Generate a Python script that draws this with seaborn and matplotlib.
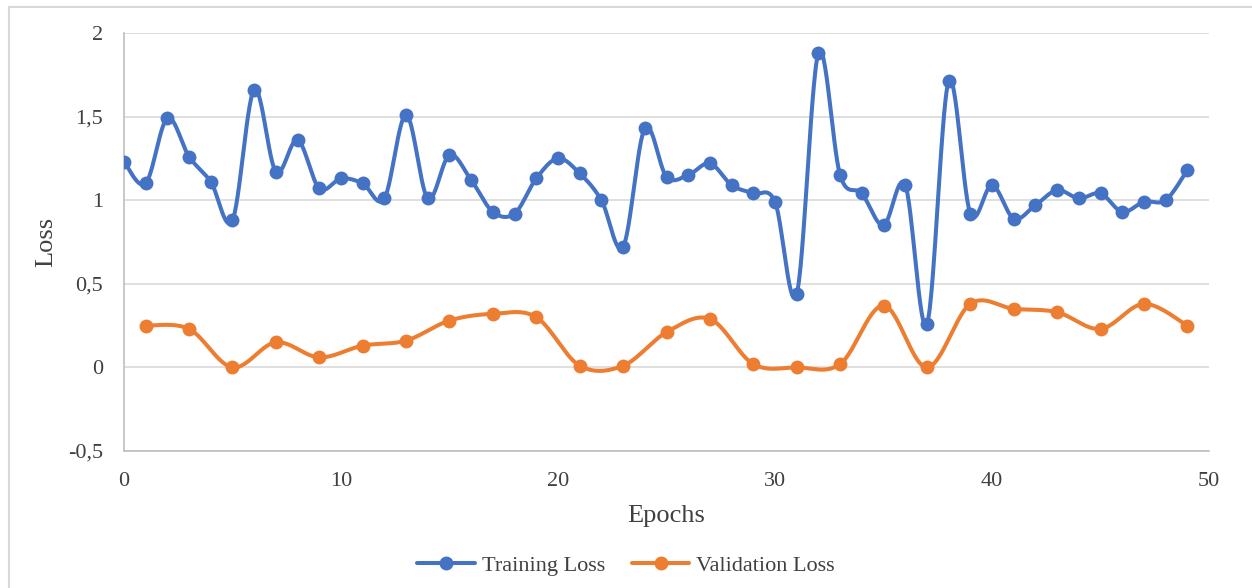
import numpy as np
import pandas as pd
import matplotlib
matplotlib.use("Agg")
import matplotlib.pyplot as plt
import seaborn as sns
from matplotlib.lines import Line2D
from matplotlib.patches import Rectangle

# valeurs
train_epochs = list(range(50))
train_loss = [1.23, 1.10, 1.49, 1.26, 1.11, 0.88, 1.66, 1.17, 1.36, 1.07,
              1.13, 1.10, 1.01, 1.51, 1.01, 1.27, 1.12, 0.93, 0.92, 1.13,
              1.25, 1.16, 1.00, 0.72, 1.43, 1.14, 1.15, 1.22, 1.09, 1.04,
              0.99, 0.44, 1.88, 1.15, 1.04, 0.85, 1.09, 0.26, 1.71, 0.92,
              1.09, 0.89, 0.97, 1.06, 1.01, 1.04, 0.93, 0.99, 1.00, 1.18]
val_epochs = list(range(1, 50, 2))
val_loss = [0.25, 0.23, 0.00, 0.15, 0.06, 0.13, 0.16, 0.28, 0.32, 0.30,
            0.01, 0.01, 0.21, 0.29, 0.02, 0.00, 0.02, 0.37, 0.00, 0.38,
            0.35, 0.33, 0.23, 0.38, 0.25]

xticks = [0, 10, 20, 30, 40, 50]
yticks = [-0.5, 0, 0.5, 1, 1.5, 2]
ytick_labels = ["-0,5", "0", "0,5", "1", "1,5", "2"]

BLUE = "#4472C4"
ORANGE = "#ED7D31"


def lissage(x, y, n=30):
    # courbe lissée façon Excel (bezier catmull-rom)
    x = np.asarray(x, float)
    y = np.asarray(y, float)
    px = np.concatenate([[x[0]], x, [x[-1]]])
    py = np.concatenate([[y[0]], y, [y[-1]]])
    t = np.linspace(0, 1, n)[:, None]
    xs, ys = [], []
    for i in range(1, len(px) - 2):
        p0 = np.array([px[i], py[i]])
        p3 = np.array([px[i + 1], py[i + 1]])
        c1 = p0 + (p3 - np.array([px[i - 1], py[i - 1]])) / 6
        c2 = p3 - (np.array([px[i + 2], py[i + 2]]) - p0) / 6
        pts = ((1 - t) ** 3) * p0 + 3 * ((1 - t) ** 2) * t * c1 + 3 * (1 - t) * t ** 2 * c2 + t ** 3 * p3
        xs.append(pts[:, 0])
        ys.append(pts[:, 1])
    return np.concatenate(xs), np.concatenate(ys)


sns.set_style("white")
plt.rcParams['font.family'] = ['Liberation Serif', 'DejaVu Serif']

fig = plt.figure(figsize=(12.52, 5.88), dpi=100)
ax = fig.add_axes([0.099, 0.233, 0.8667, 0.711])

for ep, loss, col in [(train_epochs, train_loss, BLUE), (val_epochs, val_loss, ORANGE)]:
    sx, sy = lissage(ep, loss)
    curve = pd.DataFrame({"x": sx, "y": sy})
    sns.lineplot(data=curve, x="x", y="y", color=col, linewidth=2.9, sort=False,
                 estimator=None, ax=ax)
    pts = pd.DataFrame({"x": ep, "y": loss})
    sns.scatterplot(data=pts, x="x", y="y", color=col, s=100, linewidth=0, ax=ax, zorder=3)

ax.set_xlim(0, 50)
ax.set_ylim(-0.5, 2)
ax.set_xticks(xticks)
ax.set_yticks(yticks)
ax.set_yticklabels(ytick_labels)
ax.tick_params(axis="both", labelsize=16, colors="#404040", length=0)
ax.tick_params(axis="x", pad=15)
ax.tick_params(axis="y", pad=15)
ax.grid(axis="y", color="#d9d9d9", linewidth=1.2)
ax.set_axisbelow(True)
for s in ["top", "right"]:
    ax.spines[s].set_visible(False)
ax.spines["left"].set_color("#bfbfbf")
ax.spines["bottom"].set_color("#bfbfbf")
ax.spines["left"].set_linewidth(1.2)
ax.spines["bottom"].set_linewidth(1.2)
ax.set_xlabel("Epochs", fontsize=19, color="#404040", labelpad=10)
ax.set_ylabel("Loss", fontsize=19, color="#404040", labelpad=8)

handles = [Line2D([], [], color=BLUE, linewidth=2.9, marker="o", markersize=9),
           Line2D([], [], color=ORANGE, linewidth=2.9, marker="o", markersize=9)]
fig.legend(handles, ["Training Loss", "Validation Loss"], loc="center",
           bbox_to_anchor=(0.5, 0.038), ncol=2, frameon=False, fontsize=16,
           handlelength=2.6, columnspacing=1.2, handletextpad=0.3,
           labelcolor="#404040")

fig.patches.append(Rectangle((0.0068, -0.02), 1.1, 1.008, transform=fig.transFigure,
                             fill=False, edgecolor="#d9d9d9", linewidth=1.5))

fig.savefig("out.png", dpi=100)
